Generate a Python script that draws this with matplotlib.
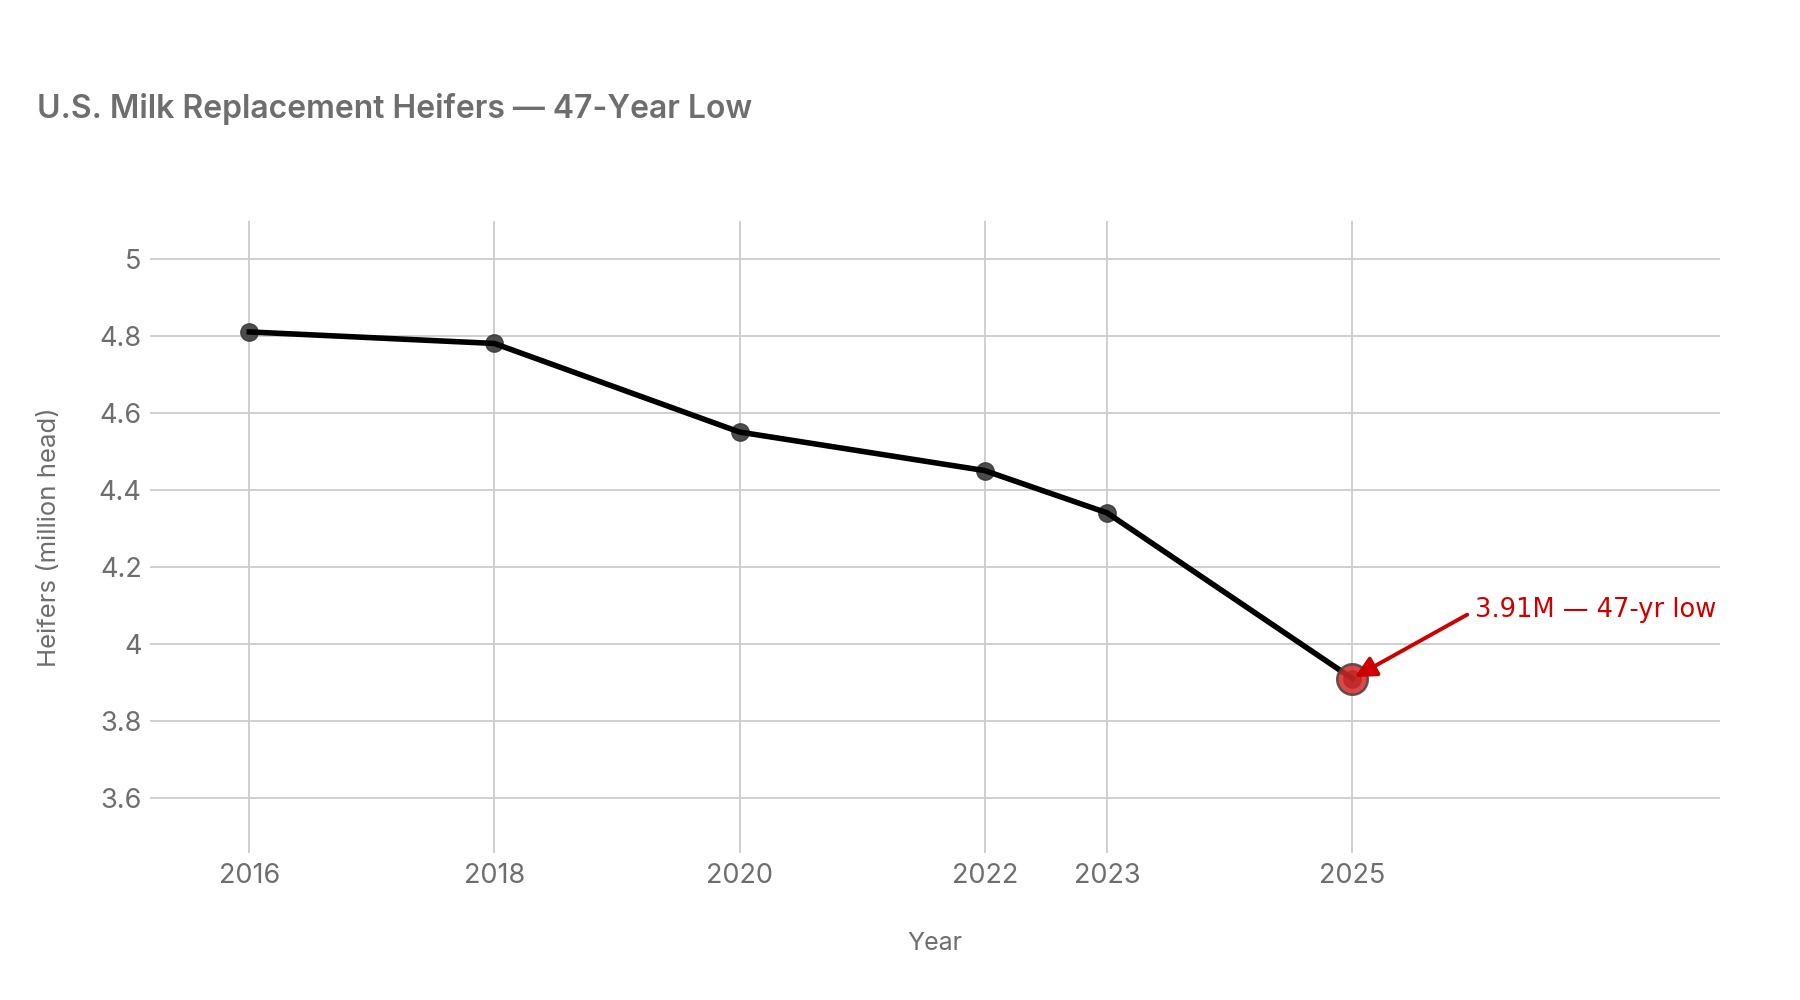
import matplotlib
matplotlib.use("Agg")
import matplotlib.pyplot as plt
from matplotlib.ticker import FuncFormatter

# data
years = [2016, 2018, 2020, 2022, 2023, 2025]
heifers = [4.81, 4.78, 4.55, 4.45, 4.34, 3.91]
low_year = 2025
low_value = 3.91
low_label = "3.91M — 47-yr low"
y_ticks = [3.6, 3.8, 4.0, 4.2, 4.4, 4.6, 4.8, 5.0]

grey = "#6e6e6e"
plt.rcParams['font.family'] = ['Inter', 'DejaVu Sans']

fig = plt.figure(figsize=(18, 10), dpi=100)
ax = fig.add_axes([150/1800, 1 - 853/1000, (1720-150)/1800, (853-221)/1000])

ax.plot(years, heifers, 'o', color="#3a3a3a", alpha=0.9, markersize=12.5, zorder=3)
ax.plot(years, heifers, '-', color="black", linewidth=4, zorder=4)
ax.plot([low_year], [low_value], 'o', color="#d62728", alpha=0.85, markersize=22,
        markeredgecolor="#444444", markeredgewidth=1.8, zorder=5)

ax.annotate(low_label, xy=(low_year, low_value), xytext=(2026.0, 4.087),
            color="#cc0000", fontsize=18.5, family=['DejaVu Sans'],
            va='center', ha='left',
            arrowprops=dict(arrowstyle='-|>', color="#cc0000", lw=2.8,
                            mutation_scale=32, shrinkA=4, shrinkB=2,
                            relpos=(0, 0.5)),
            zorder=6)

ax.set_xlim(2015.19, 2028.0)
ax.set_ylim(3.457, 5.098)
ax.set_xticks(years)
ax.set_yticks(y_ticks)
ax.yaxis.set_major_formatter(FuncFormatter(lambda v, p: f"{v:g}"))

ax.grid(True, color="#cccccc", linewidth=1.3, zorder=0)
ax.set_axisbelow(True)
for s in ax.spines.values():
    s.set_visible(False)
ax.tick_params(axis='both', length=0, labelsize=19.5, labelcolor=grey)
ax.tick_params(axis='x', pad=7)
ax.tick_params(axis='y', pad=6)

ax.set_xlabel("Year", fontsize=18, color=grey, labelpad=31)
ax.set_ylabel("Heifers (million head)", fontsize=18.5, color=grey, labelpad=27)

fig.text(37/1800, 1 - 118/1000, "U.S. Milk Replacement Heifers — 47-Year Low",
         fontsize=23, color=grey, weight='semibold', ha='left', va='baseline')

fig.savefig("out.png", dpi=100, facecolor="white")
